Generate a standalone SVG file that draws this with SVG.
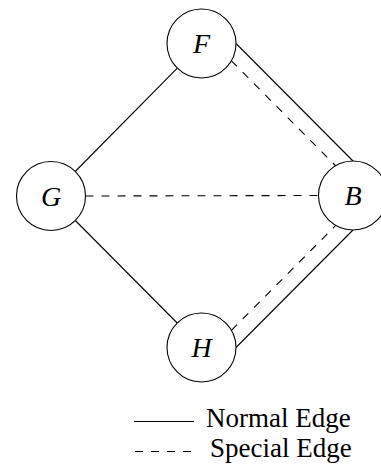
<svg xmlns="http://www.w3.org/2000/svg" width="381" height="466" viewBox="0 0 381 466">
<style>
.node circle{fill:#fff;stroke:#000;stroke-width:1.1}
.node text{font-family:"Liberation Serif",serif;font-style:italic;font-size:28px;text-anchor:middle;fill:#000}
.solid{stroke:#000;stroke-width:1.1;fill:none}
.dashed{stroke:#000;stroke-width:1.1;fill:none;stroke-dasharray:8 8}
.legend{font-family:"Liberation Serif",serif;font-size:27px;fill:#000}
</style>
<rect width="381" height="466" fill="#fff"/>
<g id="connectors">
<line class="solid" x1="75.2" y1="171.5" x2="177.3" y2="68.1"/>
<line class="solid" x1="75.3" y1="220.5" x2="177.2" y2="323"/>
<line class="dashed" x1="85.5" y1="196" x2="318.5" y2="195.5"/>
<line class="solid" x1="236" y1="43.5" x2="353" y2="161"/>
<line class="dashed" x1="231.4" y1="60.8" x2="335.8" y2="166"/>
<line class="solid" x1="236" y1="347.5" x2="353" y2="230"/>
<line class="dashed" x1="231.4" y1="330.3" x2="335.8" y2="225.4"/>
</g>
<g id="F" class="node"><circle cx="201.5" cy="43.5" r="34.5"/><text x="201.5" y="53">F</text></g>
<g id="G" class="node"><circle cx="51" cy="196" r="34.5"/><text x="51" y="205.5">G</text></g>
<g id="B" class="node"><circle cx="353" cy="195.5" r="34.5"/><text x="353" y="205">B</text></g>
<g id="H" class="node"><circle cx="201.5" cy="347.5" r="34.5"/><text x="201.5" y="357">H</text></g>
<g id="legend">
<line class="solid" x1="134" y1="421.5" x2="194" y2="421.5"/>
<text class="legend" x="206" y="427">Normal Edge</text>
<line class="dashed" x1="135" y1="451.5" x2="193" y2="451.5"/>
<text class="legend" x="210" y="457">Special Edge</text>
</g>
</svg>
